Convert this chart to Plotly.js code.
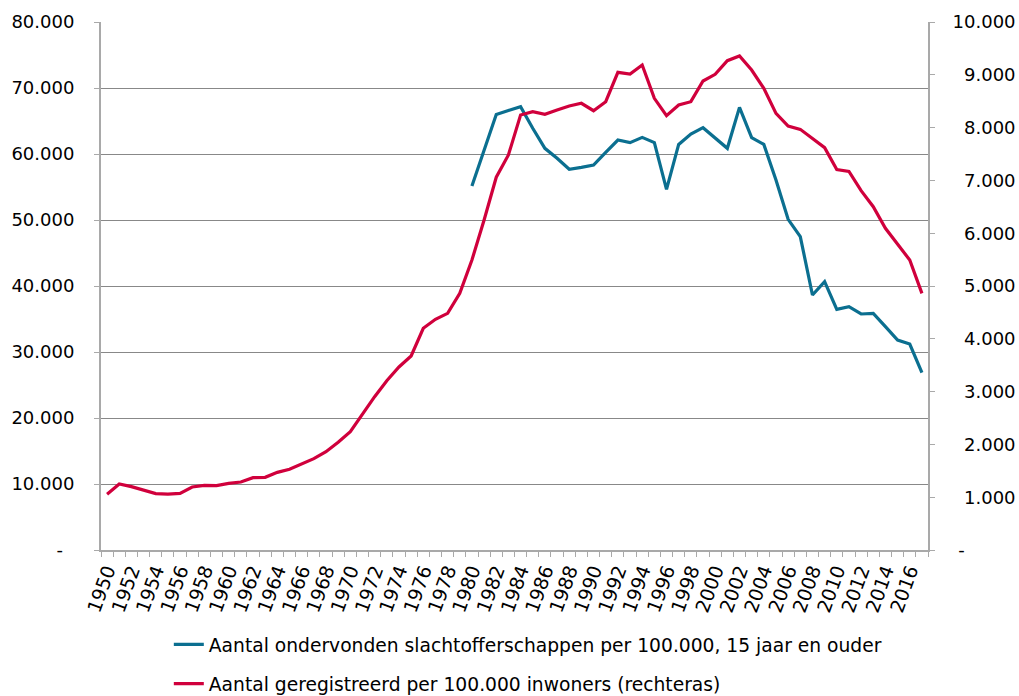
<!DOCTYPE html>
<html>
<head>
<meta charset="utf-8">
<script src="https://cdn.plot.ly/plotly-3.0.1.min.js"></script>
<style>html,body{margin:0;padding:0;background:#fff;}#chart{width:1019px;height:696px;}</style>
</head>
<body>
<div id="chart"></div>
<script>
const years = [];
for (let y = 1950; y <= 2017; y++) years.push(y);

// Aantal ondervonden slachtofferschappen per 100.000, 15 jaar en ouder (left axis)
const victims = [
  null,null,null,null,null,null,null,null,null,null,
  null,null,null,null,null,null,null,null,null,null,
  null,null,null,null,null,null,null,null,null,null,
  55150, 60600, 66000, 66600, 67170, 63900, 60860, 59350, 57680, 57980,
  58330, 60260, 62120, 61720, 62520, 61720, 54650, 61450, 63030, 63990,
  62370, 60860, 67070, 62480, 61460, 56060, 50100, 47480, 38640, 40660,
  36470, 36870, 35760, 35860, 33840, 31820, 31210, 26870
];

// Aantal geregistreerd per 100.000 inwoners (right axis)
const registered = [
  1055, 1250, 1200, 1136, 1067, 1060, 1073, 1193, 1225, 1218,
  1263, 1288, 1370, 1376, 1470, 1528, 1635, 1730, 1862, 2040,
  2241, 2576, 2904, 3207, 3466, 3674, 4199, 4369, 4482, 4861,
  5492, 6250, 7060, 7481, 8239, 8302, 8252, 8333, 8409, 8460,
  8320, 8491, 9047, 9015, 9186, 8554, 8226, 8428, 8491, 8883,
  9009, 9268, 9356, 9091, 8744, 8270, 8030, 7967, 7797, 7620,
  7205, 7170, 6805, 6502, 6092, 5795, 5492, 4861
];

const seriesNames = [
  'Aantal ondervonden slachtofferschappen per 100.000, 15 jaar en ouder',
  'Aantal geregistreerd per 100.000 inwoners (rechteras)'
];

const xTickVals = years.filter(y => y % 2 === 0);
const xTickText = xTickVals.map(String);

const leftTickVals = [0,10000,20000,30000,40000,50000,60000,70000,80000];
const leftTickText = ['-\u00a0\u00a0','10.000','20.000','30.000','40.000','50.000','60.000','70.000','80.000'];
const rightTickVals = [0,1000,2000,3000,4000,5000,6000,7000,8000,9000,10000];
const rightTickText = ['\u00a0-','\u20071.000','\u20072.000','\u20073.000','\u20074.000','\u20075.000','\u20076.000','\u20077.000','\u20078.000','\u20079.000','10.000'];

const axisGray = '#a9a9a9';
const fontFam = 'DejaVu Sans, Verdana, sans-serif';

const traces = [
  {
    x: years, y: victims, name: seriesNames[0], type: 'scatter', mode: 'lines',
    line: {color: '#0b6f90', width: 3.2}, connectgaps: false,
    legendgroup: 'a', yaxis: 'y'
  },
  {
    x: years, y: registered, name: seriesNames[1], type: 'scatter', mode: 'lines',
    line: {color: '#d0003c', width: 3.2},
    legendgroup: 'b', yaxis: 'y2'
  }
];

const layout = {
  width: 1019, height: 696,
  margin: {l: 101, r: 91, t: 22, b: 146, pad: 0},
  paper_bgcolor: '#ffffff', plot_bgcolor: '#ffffff',
  font: {family: fontFam, color: '#000000', size: 18},
  showlegend: true,
  legend: {
    x: 0.082, xanchor: 'left', xref: 'paper',
    y: 0.101, yanchor: 'top', yref: 'container',
    font: {family: fontFam, size: 18.7, color: '#000'},
    tracegroupgap: 12, traceorder: 'grouped',
    bgcolor: 'rgba(0,0,0,0)'
  },
  xaxis: {
    type: 'linear', range: [1949.5, 2017.5],
    tickmode: 'array', tickvals: xTickVals, ticktext: xTickText,
    tickangle: -70, tickfont: {family: fontFam, size: 19, color: '#000'},
    ticks: 'outside', ticklen: 0, tickcolor: axisGray,
    minor: {tickmode: 'linear', tick0: 1949.5, dtick: 1, ticks: 'outside', ticklen: 5, tickcolor: axisGray, tickwidth: 1, showgrid: false},
    showgrid: false, zeroline: false,
    showline: true, linecolor: axisGray, linewidth: 2,
    fixedrange: true
  },
  yaxis: {
    range: [0, 80000],
    tickmode: 'array', tickvals: leftTickVals, ticktext: leftTickText,
    tickfont: {family: fontFam, size: 18, color: '#000'},
    ticks: 'outside', ticklen: 5, tickcolor: axisGray, tickwidth: 1,
    ticklabelstandoff: 16,
    showgrid: true, gridcolor: '#888888', gridwidth: 1,
    zeroline: false,
    showline: true, linecolor: axisGray, linewidth: 2,
    fixedrange: true
  },
  yaxis2: {
    range: [0, 10000], overlaying: 'y', side: 'right',
    tickmode: 'array', tickvals: rightTickVals, ticktext: rightTickText,
    tickfont: {family: fontFam, size: 18, color: '#000'},
    ticks: 'outside', ticklen: 5, tickcolor: axisGray, tickwidth: 1,
    ticklabelstandoff: 14,
    showgrid: false, zeroline: false,
    showline: true, linecolor: axisGray, linewidth: 2,
    fixedrange: true
  }
};

Plotly.newPlot('chart', traces, layout, {displayModeBar: false, staticPlot: true});
</script>
</body>
</html>
